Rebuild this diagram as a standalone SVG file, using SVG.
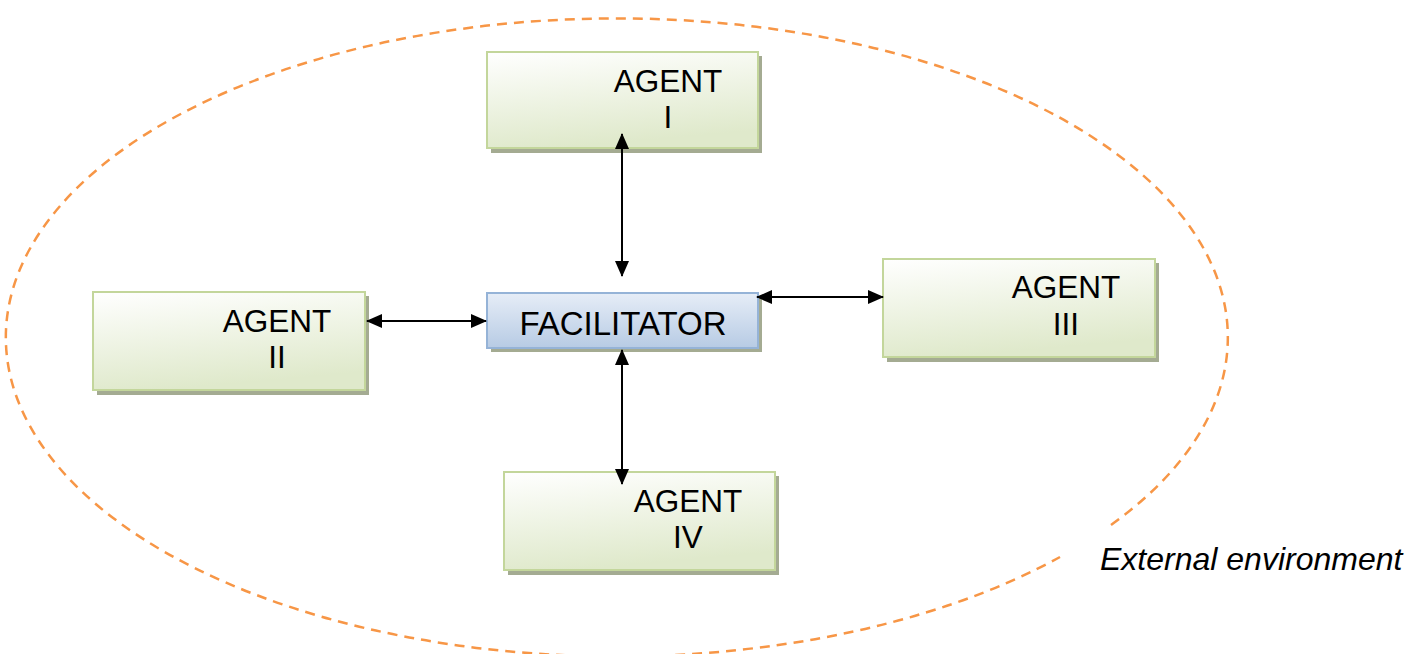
<svg xmlns="http://www.w3.org/2000/svg" width="1416" height="654" viewBox="0 0 1416 654">
<defs>
<linearGradient id="gGreen" x1="0" y1="0" x2="0.25" y2="1">
<stop offset="0" stop-color="#ffffff"/>
<stop offset="1" stop-color="#dfe9cb"/>
</linearGradient>
<linearGradient id="gBlue" x1="0" y1="0" x2="0" y2="1">
<stop offset="0" stop-color="#e6edf7"/>
<stop offset="1" stop-color="#b7cbe4"/>
</linearGradient>
<marker id="ah" viewBox="0 0 16 14" refX="15" refY="7" markerWidth="16" markerHeight="14" markerUnits="userSpaceOnUse" orient="auto-start-reverse">
<path d="M0,0 L16,7 L0,14 Z" fill="#000"/>
</marker>
<style>
.shadow{fill:#a4ab92;}
.agent{fill:url(#gGreen);stroke:#c3d69b;stroke-width:2;}
.fac{fill:url(#gBlue);stroke:#95b3d7;stroke-width:2;}
.lbl{font-family:"Liberation Sans",Arial,sans-serif;font-size:31.5px;fill:#000;text-anchor:middle;}
.conn{stroke:#000;stroke-width:2;fill:none;marker-start:url(#ah);marker-end:url(#ah);}
.env{fill:none;stroke:#f79646;stroke-width:2.5;stroke-dasharray:10 7;}
</style>
</defs>
<rect width="1416" height="654" fill="#fff"/>
<path class="env" d="M 1111 525 A 611 319 0 1 0 1060 557"/>
<text x="1100" y="570" font-family="Liberation Sans, Arial, sans-serif" font-size="32" font-style="italic" fill="#000">External environment</text>

<g id="agent1">
<rect class="shadow" x="491" y="56" width="271" height="97"/>
<rect class="agent" x="487" y="52" width="271" height="96"/>
<text class="lbl" x="668" y="92">AGENT</text>
<text class="lbl" x="668" y="128">I</text>
</g>
<g id="facilitator">
<rect class="shadow" x="491" y="297" width="271" height="55"/>
<rect class="fac" x="487" y="293" width="271" height="55"/>
<text class="lbl" x="623" y="335" style="font-size:33px">FACILITATOR</text>
</g>
<g id="agent2">
<rect class="shadow" x="97" y="296" width="272" height="99"/>
<rect class="agent" x="93" y="292" width="272" height="98"/>
<text class="lbl" x="277" y="332">AGENT</text>
<text class="lbl" x="277" y="368">II</text>
</g>
<g id="agent3">
<rect class="shadow" x="887" y="263" width="272" height="99"/>
<rect class="agent" x="883" y="259" width="272" height="98"/>
<text class="lbl" x="1066" y="298">AGENT</text>
<text class="lbl" x="1066" y="335">III</text>
</g>
<g id="agent4">
<rect class="shadow" x="508" y="476" width="271" height="99"/>
<rect class="agent" x="504" y="472" width="271" height="98"/>
<text class="lbl" x="688" y="512">AGENT</text>
<text class="lbl" x="688" y="548">IV</text>
</g>
<g id="connectors">
<line class="conn" x1="622" y1="134" x2="622" y2="276"/>
<line class="conn" x1="367" y1="321" x2="486" y2="321"/>
<line class="conn" x1="757" y1="297" x2="883" y2="297"/>
<line class="conn" x1="622" y1="350" x2="622" y2="484"/>
</g>
</svg>
